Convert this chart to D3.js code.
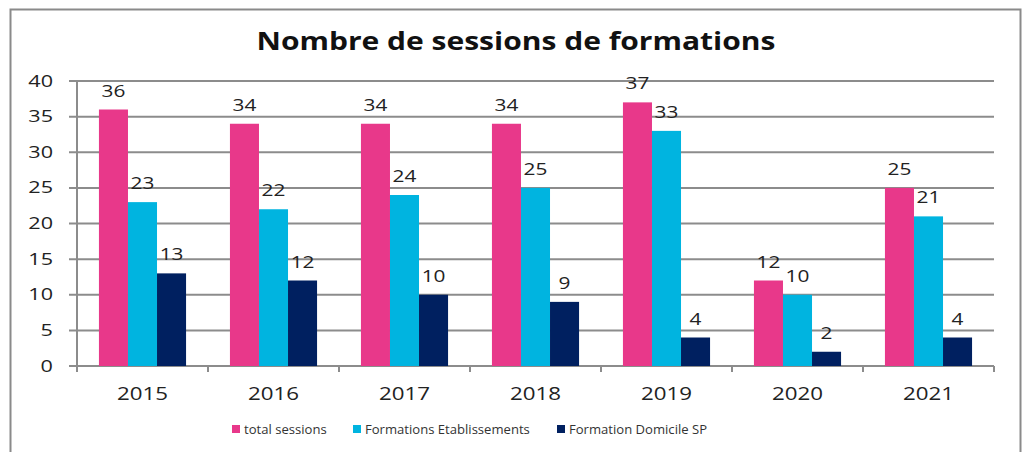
<!DOCTYPE html>
<html>
<head>
<meta charset="utf-8">
<script src="https://cdn.jsdelivr.net/npm/d3@7"></script>
<style>
  body { margin: 0; background: #fff; }
  svg { display: block; }
</style>
</head>
<body>
<script>
// chart data
var years = ["2015", "2016", "2017", "2018", "2019", "2020", "2021"];
var seriesNames = ["total sessions", "Formations Etablissements", "Formation Domicile SP"];
var totalSessions = [36, 34, 34, 34, 37, 12, 25];
var formationsEtab = [23, 22, 24, 25, 33, 10, 21];
var formationDomicile = [13, 12, 10, 9, 4, 2, 4];
var yTicks = [0, 5, 10, 15, 20, 25, 30, 35, 40];
var colors = ["#E8388A", "#00B4E0", "#002060"];

var W = 1022, H = 452;
var margin = {left: 77, right: 28, top: 81, bottom: 86}; // plot from x 77..994, y 81..366
var fontFamily = "'Open Sans', 'DejaVu Sans', sans-serif";

// the original text is a bit wider than Open Sans, stretch it horizontally
var stretch = function (sel, factor) {
    sel.each(function () {
        var len = this.getComputedTextLength();
        d3.select(this)
            .attr("textLength", len * factor)
            .attr("lengthAdjust", "spacingAndGlyphs");
    });
};

var svg = d3.select("body").append("svg")
    .attr("width", W)
    .attr("height", H);

// outer frame
svg.append("rect")
    .attr("x", 10.5).attr("y", 9.5)
    .attr("width", 1010).attr("height", 460)
    .attr("fill", "#fff")
    .attr("stroke", "#8a8a8a")
    .attr("stroke-width", 2);

// title
svg.append("text")
    .attr("x", 516).attr("y", 50)
    .attr("text-anchor", "middle")
    .attr("font-family", fontFamily)
    .attr("font-weight", "bold")
    .attr("font-size", "25px")
    .attr("fill", "#111")
    .text("Nombre de sessions de formations")
    .call(stretch, 1.2);

var x0 = d3.scaleBand()
    .domain(years)
    .range([margin.left, W - margin.right])
    .paddingInner(0.335)
    .paddingOuter(0.1675);

var x1 = d3.scaleBand()
    .domain(d3.range(seriesNames.length))
    .range([0, x0.bandwidth()]);

var y = d3.scaleLinear()
    .domain([0, 40])
    .range([H - margin.bottom, margin.top]);

// gridlines
svg.append("g")
    .selectAll("line")
    .data(yTicks)
    .enter()
    .append("line")
    .attr("x1", margin.left - 8)
    .attr("x2", W - margin.right)
    .attr("y1", function (d) { return y(d); })
    .attr("y2", function (d) { return y(d); })
    .attr("stroke", "#8c8c8c")
    .attr("stroke-width", 2);

// y axis labels
svg.append("g")
    .selectAll("text")
    .data(yTicks)
    .enter()
    .append("text")
    .attr("x", 53)
    .attr("y", function (d) { return y(d); })
    .attr("dy", "0.35em")
    .attr("text-anchor", "end")
    .attr("font-family", fontFamily)
    .attr("font-size", "16px")
    .attr("fill", "#222")
    .text(function (d) { return d; })
    .call(stretch, 1.35);

// y axis line
svg.append("line")
    .attr("x1", margin.left).attr("x2", margin.left)
    .attr("y1", y(40)).attr("y2", y(0) + 6)
    .attr("stroke", "#8c8c8c")
    .attr("stroke-width", 2);

// category tick marks
var boundaries = years.map(function (d) { return x0(d) - x0.step() * x0.paddingInner() / 2; });
boundaries.push(W - margin.right);
svg.append("g")
    .selectAll("line")
    .data(boundaries.slice(1))
    .enter()
    .append("line")
    .attr("x1", function (d) { return d; })
    .attr("x2", function (d) { return d; })
    .attr("y1", y(0))
    .attr("y2", y(0) + 6)
    .attr("stroke", "#8c8c8c")
    .attr("stroke-width", 2);

// year labels
svg.append("g")
    .selectAll("text")
    .data(years)
    .enter()
    .append("text")
    .attr("x", function (d) { return x0(d) + x0.bandwidth() / 2; })
    .attr("y", 400)
    .attr("text-anchor", "middle")
    .attr("font-family", fontFamily)
    .attr("font-size", "18px")
    .attr("fill", "#222")
    .text(function (d) { return d; })
    .call(stretch, 1.24);

// bars
var series = [totalSessions, formationsEtab, formationDomicile];
var rows = [];
years.forEach(function (yr, i) {
    series.forEach(function (s, k) {
        rows.push({year: yr, k: k, value: s[i]});
    });
});

var groups = svg.append("g");
groups.selectAll("rect")
    .data(rows)
    .enter()
    .append("rect")
    .attr("x", function (d) { return x0(d.year) + x1(d.k); })
    .attr("y", function (d) { return y(d.value); })
    .attr("width", x1.bandwidth())
    .attr("height", function (d) { return y(0) - y(d.value); })
    .attr("fill", function (d) { return colors[d.k]; });

groups.selectAll("text")
    .data(rows)
    .enter()
    .append("text")
    .attr("x", function (d) { return x0(d.year) + x1(d.k) + x1.bandwidth() / 2; })
    .attr("y", function (d) { return y(d.value) - 13; })
    .attr("text-anchor", "middle")
    .attr("font-family", fontFamily)
    .attr("font-size", "16px")
    .attr("fill", "#222")
    .text(function (d) { return d.value; })
    .call(stretch, 1.3);

// legend
var legendX = [232, 353, 557];
var legend = svg.append("g")
    .selectAll("g")
    .data(seriesNames)
    .enter()
    .append("g")
    .attr("transform", function (d, i) { return "translate(" + legendX[i] + ",430)"; });

legend.append("rect")
    .attr("x", 0).attr("y", -5)
    .attr("width", 8).attr("height", 8)
    .attr("fill", function (d, i) { return colors[i]; });

legend.append("text")
    .attr("x", 12)
    .attr("y", 0)
    .attr("dy", "0.35em")
    .attr("font-family", fontFamily)
    .attr("font-size", "12px")
    .attr("fill", "#333")
    .text(function (d) { return d; })
    .call(stretch, 1.09);
</script>
</body>
</html>
